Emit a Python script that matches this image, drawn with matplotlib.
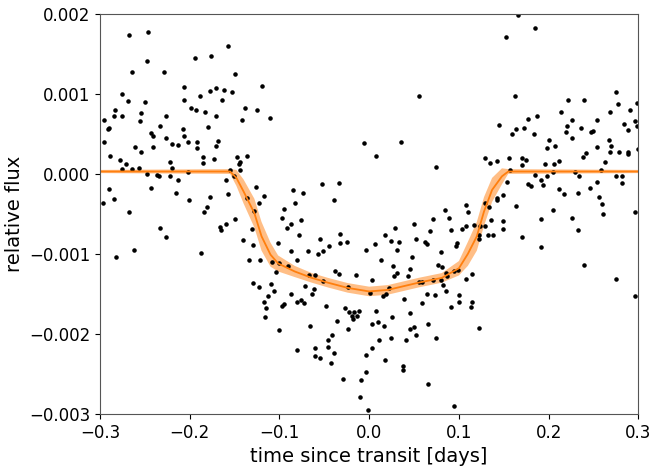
import numpy as np
import matplotlib
matplotlib.use("Agg")
import matplotlib.pyplot as plt

# observed points: time since transit [days], flux in parts per thousand
t_obs = [
    -0.268, -0.247, -0.248, -0.264, -0.229, -0.206, -0.276, -0.269, -0.250, -0.206,
    -0.199, -0.283, -0.285, -0.275, -0.254, -0.227, -0.296, -0.255, -0.291, -0.290,
    -0.233, -0.208, -0.296, -0.243, -0.241, -0.227, -0.206, -0.202, -0.261, -0.241,
    -0.220, -0.213, -0.254, -0.289, -0.278, -0.271, -0.222, -0.276, -0.264, -0.257,
    -0.220, -0.248, -0.236, -0.234, -0.222, -0.213, -0.202, -0.243, -0.290, -0.215,
    -0.285, -0.297, -0.201, -0.268, -0.233, -0.226, -0.262, -0.282, -0.157, -0.194,
    -0.176, -0.150, -0.120, -0.189, -0.178, -0.171, -0.162, -0.153, -0.164, -0.193,
    -0.183, -0.171, -0.138, -0.125, -0.142, -0.111, -0.180, -0.192, -0.192, -0.168,
    -0.171, -0.185, -0.185, -0.173, -0.147, -0.136, -0.144, -0.145, -0.144, -0.155,
    -0.151, -0.160, -0.126, -0.157, -0.117, -0.178, -0.181, -0.184, -0.136, -0.123,
    -0.128, -0.150, -0.160, -0.166, -0.165, -0.131, -0.141, -0.129, -0.102, -0.187,
    -0.134, -0.122, -0.108, -0.101, -0.104, -0.130, -0.123, -0.109, -0.106, -0.113,
    -0.117, -0.115, -0.116, -0.101, -0.006, -0.053, -0.034, -0.085, -0.074, -0.083,
    -0.039, -0.095, -0.097, -0.087, -0.076, -0.092, -0.078, -0.055, -0.032, -0.032,
    -0.025, -0.045, -0.052, -0.057, -0.087, -0.068, -0.003, -0.081, -0.090, -0.038,
    -0.034, -0.067, -0.060, -0.015, -0.051, -0.071, -0.062, -0.024, -0.087, -0.064,
    -0.080, -0.076, -0.073, -0.095, -0.097, -0.048, -0.027, -0.022, -0.017, -0.011,
    -0.019, -0.018, -0.014, -0.036, -0.024, -0.066, -0.041, -0.046, -0.046, -0.060,
    -0.081, -0.039, -0.060, -0.055, -0.043, -0.003, -0.004, -0.029, -0.009, -0.010,
    -0.001, 0.056, 0.036, 0.008, 0.075, 0.085, 0.071, 0.089, 0.029, 0.050,
    0.068, 0.091, 0.018, 0.006, 0.024, 0.033, 0.052, 0.062, 0.064, 0.098,
    0.097, 0.031, 0.080, 0.048, 0.013, 0.027, 0.077, 0.081, 0.045, 0.031,
    0.028, 0.043, 0.003, 0.087, 0.086, 0.094, 0.099, 0.055, 0.059, 0.071,
    0.080, 0.082, 0.022, 0.019, 0.015, 0.001, 0.065, 0.073, 0.086, 0.039,
    0.100, 0.059, 0.091, 0.100, 0.008, 0.025, 0.045, 0.003, 0.010, 0.017,
    0.066, 0.050, 0.045, 0.052, 0.011, 0.024, 0.041, 0.074, 0.003, 0.018,
    0.038, 0.038, 0.066, 0.094, 0.166, 0.152, 0.185, 0.163, 0.145, 0.177,
    0.187, 0.159, 0.164, 0.173, 0.184, 0.200, 0.198, 0.129, 0.135, 0.142,
    0.156, 0.170, 0.175, 0.170, 0.196, 0.157, 0.185, 0.198, 0.177, 0.180,
    0.154, 0.191, 0.194, 0.149, 0.143, 0.142, 0.108, 0.110, 0.129, 0.164,
    0.134, 0.136, 0.149, 0.149, 0.192, 0.103, 0.108, 0.117, 0.124, 0.129,
    0.122, 0.122, 0.132, 0.138, 0.170, 0.191, 0.115, 0.108, 0.115, 0.113,
    0.122, 0.275, 0.222, 0.239, 0.277, 0.298, 0.214, 0.291, 0.269, 0.226,
    0.254, 0.220, 0.219, 0.236, 0.249, 0.247, 0.284, 0.296, 0.299, 0.289,
    0.226, 0.207, 0.267, 0.270, 0.254, 0.242, 0.238, 0.279, 0.289, 0.289,
    0.269, 0.2995, 0.212, 0.206, 0.263, 0.205, 0.258, 0.229, 0.234, 0.275,
    0.282, 0.282, 0.254, 0.246, 0.212, 0.217, 0.233, 0.256, 0.260, 0.205,
    0.261, 0.296, 0.226, 0.233, 0.240, 0.275, 0.296,
]
flux_obs = [
    1.74, 1.78, 1.41, 1.27, 1.28, 1.09, 1.00, 0.91, 0.90, 0.93,
    0.83, 0.80, 0.72, 0.72, 0.76, 0.73, 0.68, 0.66, 0.56, 0.57,
    0.60, 0.56, 0.40, 0.51, 0.48, 0.45, 0.48, 0.40, 0.34, 0.34,
    0.38, 0.36, 0.28, 0.22, 0.17, 0.13, 0.15, 0.06, 0.06, 0.08,
    0.08, 0.00, -0.01, -0.03, -0.03, -0.07, 0.02, -0.18, -0.19, -0.24,
    -0.31, -0.37, -0.33, -0.48, -0.68, -0.79, -0.95, -1.04, 1.60, 1.45,
    1.47, 1.25, 1.10, 0.98, 1.04, 1.07, 1.05, 1.03, 0.92, 0.80,
    0.78, 0.73, 0.82, 0.80, 0.68, 0.70, 0.59, 0.40, 0.33, 0.41,
    0.35, 0.21, 0.14, 0.19, 0.21, 0.23, 0.15, 0.13, 0.05, 0.05,
    -0.02, -0.08, -0.16, -0.25, -0.27, -0.29, -0.41, -0.48, -0.30, -0.36,
    -0.47, -0.56, -0.63, -0.66, -0.70, -0.69, -0.83, -0.89, -0.86, -0.99,
    -1.08, -1.08, -1.10, -1.11, -1.23, -1.36, -1.41, -1.38, -1.46, -1.53,
    -1.60, -1.68, -1.79, -1.95, 0.39, -0.13, -0.11, -0.20, -0.24, -0.36,
    -0.33, -0.44, -0.55, -0.63, -0.58, -0.68, -0.77, -0.82, -0.75, -0.86,
    -0.85, -0.90, -0.96, -1.00, -0.97, -0.97, -0.95, -1.08, -1.15, -1.22,
    -1.25, -1.26, -1.27, -1.27, -1.34, -1.40, -1.44, -1.42, -1.50, -1.50,
    -1.60, -1.58, -1.61, -1.63, -1.65, -1.65, -1.68, -1.73, -1.73, -1.71,
    -1.78, -1.82, -1.78, -1.84, -1.94, -1.90, -2.02, -2.08, -2.17, -2.18,
    -2.20, -2.24, -2.28, -2.30, -2.36, -2.26, -2.48, -2.56, -2.58, -2.79,
    -2.95, 0.98, 0.40, 0.22, 0.09, -0.45, -0.56, -0.55, -0.68, -0.63,
    -0.72, -0.70, -0.76, -0.88, -0.84, -0.85, -0.81, -0.85, -0.88, -0.87,
    -0.90, -0.95, -0.98, -1.04, -1.08, -1.15, -1.14, -1.17, -1.19, -1.24,
    -1.28, -1.28, -1.33, -1.28, -1.24, -1.22, -1.20, -1.35, -1.35, -1.33,
    -1.33, -1.39, -1.43, -1.50, -1.53, -1.49, -1.50, -1.52, -1.47, -1.56,
    -1.52, -1.62, -1.66, -1.60, -1.72, -1.79, -1.74, -1.88, -1.85, -1.90,
    -1.88, -1.91, -1.94, -2.01, -2.08, -2.05, -2.08, -2.05, -2.18, -2.33,
    -2.40, -2.45, -2.63, -2.90, 1.99, 1.71, 1.83, 0.98, 0.61, 0.69,
    0.73, 0.50, 0.56, 0.58, 0.50, 0.43, 0.32, 0.20, 0.14, 0.16,
    0.20, 0.20, 0.17, 0.11, 0.13, 0.05, -0.01, -0.02, -0.12, -0.15,
    -0.10, -0.08, -0.14, -0.26, -0.30, -0.33, -0.39, -0.48, -0.37, -0.40,
    -0.41, -0.58, -0.59, -0.69, -0.57, -0.69, -0.65, -0.64, -0.65, -0.65,
    -0.76, -0.82, -0.76, -0.77, -0.79, -0.92, -1.25, -1.32, -1.60, -1.66,
    -1.93, 1.02, 0.92, 0.92, 0.88, 0.89, 0.77, 0.80, 0.77, 0.68,
    0.67, 0.60, 0.53, 0.58, 0.54, 0.53, 0.63, 0.66, 0.60, 0.55,
    0.45, 0.35, 0.43, 0.35, 0.34, 0.26, 0.21, 0.28, 0.28, 0.25,
    0.28, 0.31, 0.16, 0.13, 0.15, 0.02, 0.05, 0.02, -0.03, -0.02,
    -0.02, -0.11, -0.10, -0.18, -0.19, -0.25, -0.24, -0.29, -0.38, -0.45,
    -0.50, -0.48, -0.55, -0.70, -1.14, -1.31, -1.53,
]

# transit model (ppt) and half width of its band
t_model = [-0.30, -0.155, -0.148, -0.14, -0.128, -0.12, -0.11, -0.1015, -0.083, -0.064,
           -0.046, -0.024, 0.0, 0.021, 0.055, 0.081, 0.10, 0.11, 0.12, 0.128,
           0.137, 0.148, 0.155, 0.30]
flux_model = [0.03, 0.03, -0.05, -0.22, -0.49, -0.78, -1.01, -1.12, -1.22, -1.30,
              -1.36, -1.425, -1.47, -1.45, -1.36, -1.30, -1.18, -1.0, -0.78, -0.47,
              -0.2, -0.03, 0.03, 0.03]
band_half = [0.02, 0.03, 0.10, 0.15, 0.18, 0.18, 0.15, 0.10, 0.07, 0.06,
             0.06, 0.06, 0.06, 0.06, 0.06, 0.06, 0.09, 0.15, 0.18, 0.18,
             0.15, 0.10, 0.03, 0.02]

t_obs = np.array(t_obs)
flux_obs = np.array(flux_obs) * 1e-3
t_model = np.array(t_model)
flux_model = np.array(flux_model) * 1e-3
band_half = np.array(band_half) * 1e-3

fig = plt.figure(figsize=(6.54, 4.66), dpi=100)
ax = fig.add_axes([0.153, 0.112, 0.823, 0.858])

ax.plot(t_obs, flux_obs, ".k", ms=4.5)
ax.plot(t_model, flux_model, color="C1", lw=1.3)
art = ax.fill_between(t_model, flux_model - band_half, flux_model + band_half,
                      color="C1", alpha=0.5)
art.set_edgecolor("none")

ax.set_xlim(-0.3, 0.3)
ax.set_ylim(-0.003, 0.002)
ax.set_xlabel("time since transit [days]", fontsize=14)
ax.set_ylabel("relative flux", fontsize=14)
ax.tick_params(labelsize=12)
for s in ax.spines.values():
    s.set_color("#555555")

fig.savefig("out.png", dpi=100)
